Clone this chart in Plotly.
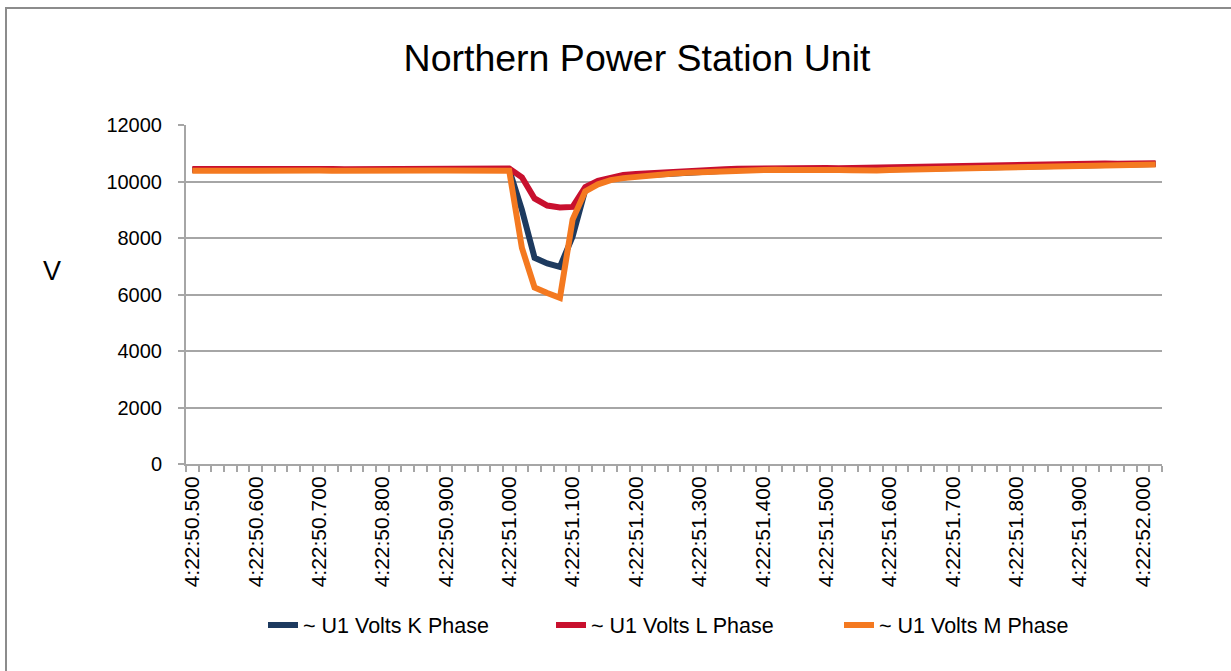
import plotly.graph_objects as go

# ---------------- data ----------------
times = [
    "4:22:50.500", "4:22:50.520", "4:22:50.540", "4:22:50.560", "4:22:50.580",
    "4:22:50.600", "4:22:50.620", "4:22:50.640", "4:22:50.660", "4:22:50.680",
    "4:22:50.700", "4:22:50.720", "4:22:50.740", "4:22:50.760", "4:22:50.780",
    "4:22:50.800", "4:22:50.820", "4:22:50.840", "4:22:50.860", "4:22:50.880",
    "4:22:50.900", "4:22:50.920", "4:22:50.940", "4:22:50.960", "4:22:50.980",
    "4:22:51.000", "4:22:51.020", "4:22:51.040", "4:22:51.060", "4:22:51.080",
    "4:22:51.100", "4:22:51.120", "4:22:51.140", "4:22:51.160", "4:22:51.180",
    "4:22:51.200", "4:22:51.220", "4:22:51.240", "4:22:51.260", "4:22:51.280",
    "4:22:51.300", "4:22:51.320", "4:22:51.340", "4:22:51.360", "4:22:51.380",
    "4:22:51.400", "4:22:51.420", "4:22:51.440", "4:22:51.460", "4:22:51.480",
    "4:22:51.500", "4:22:51.520", "4:22:51.540", "4:22:51.560", "4:22:51.580",
    "4:22:51.600", "4:22:51.620", "4:22:51.640", "4:22:51.660", "4:22:51.680",
    "4:22:51.700", "4:22:51.720", "4:22:51.740", "4:22:51.760", "4:22:51.780",
    "4:22:51.800", "4:22:51.820", "4:22:51.840", "4:22:51.860", "4:22:51.880",
    "4:22:51.900", "4:22:51.920", "4:22:51.940", "4:22:51.960", "4:22:51.980",
    "4:22:52.000", "4:22:52.020",
]

volts_k = [
    10410, 10415, 10410, 10420, 10415, 10410, 10420, 10425, 10415, 10410,
    10420, 10415, 10405, 10410, 10420, 10425, 10430, 10420, 10415, 10420,
    10425, 10415, 10410, 10420, 10425, 10420, 9000, 7300, 7100, 6980,
    8050, 9700, 9950, 10080, 10150, 10200, 10230, 10260, 10300, 10330,
    10350, 10370, 10390, 10410, 10420, 10430, 10440, 10430, 10440, 10450,
    10440, 10430, 10420, 10400, 10410, 10430, 10440, 10450, 10460, 10470,
    10480, 10490, 10500, 10510, 10520, 10530, 10540, 10550, 10560, 10570,
    10580, 10590, 10590, 10600, 10600, 10610, 10620,
]

volts_l = [
    10440, 10445, 10440, 10450, 10445, 10440, 10450, 10455, 10445, 10440,
    10450, 10445, 10435, 10440, 10450, 10455, 10460, 10450, 10445, 10450,
    10460, 10450, 10440, 10450, 10460, 10460, 10150, 9400, 9150, 9080,
    9100, 9800, 10020, 10150, 10230, 10270, 10300, 10330, 10350, 10380,
    10390, 10410, 10430, 10450, 10460, 10470, 10480, 10470, 10490, 10500,
    10480, 10470, 10480, 10450, 10460, 10480, 10490, 10500, 10510, 10520,
    10530, 10540, 10540, 10560, 10560, 10570, 10580, 10590, 10600, 10620,
    10610, 10660, 10640, 10630, 10640, 10640, 10650,
]

volts_m = [
    10380, 10385, 10380, 10385, 10380, 10380, 10385, 10390, 10385, 10380,
    10385, 10380, 10375, 10380, 10385, 10390, 10395, 10385, 10380, 10385,
    10390, 10385, 10380, 10385, 10390, 10380, 7650, 6250, 6050, 5880,
    8650, 9650, 9900, 10050, 10120, 10170, 10210, 10250, 10280, 10310,
    10330, 10350, 10370, 10390, 10400, 10410, 10420, 10410, 10420, 10430,
    10420, 10410, 10400, 10380, 10390, 10410, 10420, 10430, 10440, 10450,
    10460, 10470, 10480, 10490, 10500, 10510, 10520, 10530, 10540, 10550,
    10560, 10570, 10570, 10580, 10580, 10590, 10600,
]

series_names = ["~ U1 Volts K Phase", "~ U1 Volts L Phase", "~ U1 Volts M Phase"]
series_colors = ["#1d3a5f", "#c8102e", "#f47920"]

y_ticks = [0, 2000, 4000, 6000, 8000, 10000, 12000]
y_tick_text = ["0", "2000", "4000", "6000", "8000", "10000", "12000"]
label_every = 5
tick_text = [t if i % label_every == 0 else "" for i, t in enumerate(times)]

title_text = "Northern Power Station Unit"
y_title = "V"

# ---------------- figure ----------------
W, H = 1231, 671
L_M, R_M, T_M, B_M = 186, 69, 125, 207
plot_w = W - L_M - R_M
plot_h = H - T_M - B_M

FONT = "Liberation Sans, Arial, sans-serif"
GRID = "#a6a6a6"

fig = go.Figure()
for vals, name, col in zip([volts_k, volts_l, volts_m], series_names, series_colors):
    fig.add_trace(go.Scatter(
        x=times, y=vals, name=name, mode="lines",
        line=dict(color=col, width=6, shape="linear"),
    ))

fig.update_layout(
    width=W, height=H,
    margin=dict(l=L_M, r=R_M, t=T_M, b=B_M),
    paper_bgcolor="white", plot_bgcolor="white",
    font=dict(family=FONT, size=20, color="black"),
    title=dict(text=title_text, font=dict(size=37.5, color="black", family=FONT),
               x=637 / W, xref="container", xanchor="center",
               y=1 - 58 / H, yref="container", yanchor="middle"),
    showlegend=True,
    legend=dict(orientation="h", xref="container", yref="container",
                x=263 / W, xanchor="left", y=1 - 625 / H, yanchor="middle",
                font=dict(size=21.5, family=FONT), entrywidth=243, entrywidthmode="pixels",
                bgcolor="rgba(0,0,0,0)", itemwidth=30),
    xaxis=dict(
        type="category", range=[-0.5, len(times) - 0.5],
        tickmode="array", tickvals=times, ticktext=tick_text,
        tickson="boundaries", ticks="outside", ticklen=6, tickcolor=GRID, tickwidth=1.5,
        tickangle=-90, tickfont=dict(size=21, family=FONT),
        showline=True, linecolor=GRID, linewidth=2,
        showgrid=False, zeroline=False, ticklabelstandoff=2,
    ),
    yaxis=dict(
        range=[0, 12000], tickmode="array", tickvals=y_ticks, ticktext=y_tick_text,
        ticks="outside", ticklen=6, tickcolor=GRID, tickwidth=1.5,
        tickfont=dict(size=20, family=FONT),
        showline=True, linecolor=GRID, linewidth=2,
        showgrid=True, gridcolor=GRID, gridwidth=1.5, zeroline=False,
        ticklabelstandoff=12,
    ),
)

# y-axis title "V" (horizontal), positioned in paper coordinates
fig.add_annotation(text=y_title, x=(52 - L_M) / plot_w, y=(H - B_M - 271) / plot_h,
                   xref="paper", yref="paper", xanchor="center", yanchor="middle",
                   showarrow=False, font=dict(size=27, family=FONT, color="black"))

# outer chart border (left/top visible; right/bottom outside the view)
fig.add_shape(type="rect", xref="paper", yref="paper",
              x0=(6 - L_M) / plot_w, x1=(W + 20 - L_M) / plot_w,
              y0=-(B_M + 20) / plot_h, y1=(H - B_M - 8) / plot_h,
              line=dict(color="#8c8c8c", width=2), fillcolor="rgba(0,0,0,0)", layer="below")

fig.write_html(
    "out.html",
    config={"displayModeBar": False},
    post_script="document.body.style.margin='0';document.body.style.overflow='hidden';",
)
